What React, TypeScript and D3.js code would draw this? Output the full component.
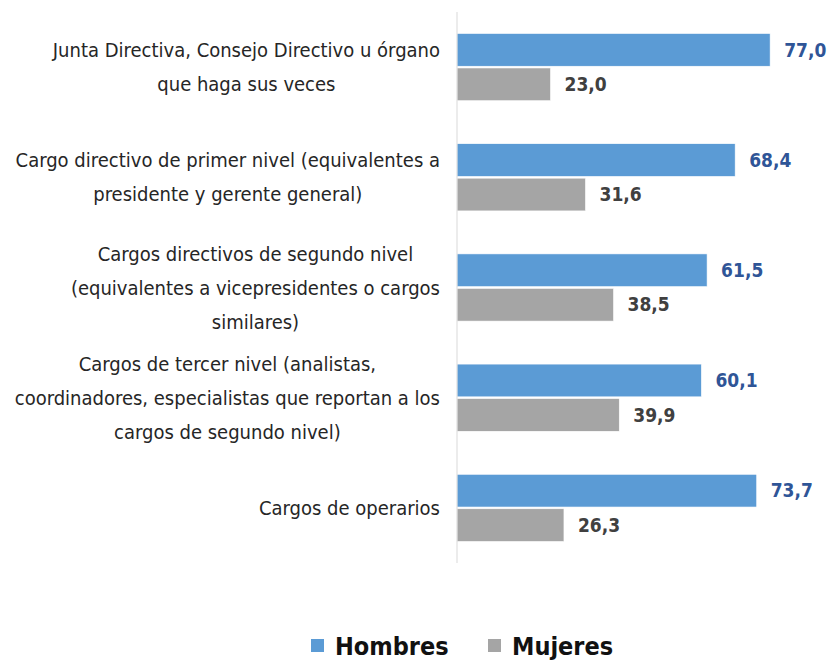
import { useRef, useEffect } from 'react'
import * as d3 from 'd3'

const categories = [
  'Junta Directiva, Consejo Directivo u órgano|que haga sus veces',
  'Cargo directivo de primer nivel (equivalentes a|presidente y gerente general)',
  'Cargos directivos de segundo nivel|(equivalentes a vicepresidentes o cargos|similares)',
  'Cargos de tercer nivel (analistas,|coordinadores, especialistas que reportan a los|cargos de segundo nivel)',
  'Cargos de operarios ',
]
const series = ['Hombres', 'Mujeres']
const hombres = [77.0, 68.4, 61.5, 60.1, 73.7]
const mujeres = [23.0, 31.6, 38.5, 39.9, 26.3]

const colors = ['#5B9BD5', '#A5A5A5']
const labelColors = ['#2F5597', '#404040']
const font = '"DejaVu Sans Condensed", "Liberation Sans Narrow", Arial, sans-serif'

export default function App() {
  const ref = useRef<SVGSVGElement>(null)

  useEffect(() => {
    const width = 831
    const height = 662
    const svg = d3.select(ref.current)
    svg.selectAll('*').remove()

    const x = d3.scaleLinear().domain([0, 90]).range([457, 823])
    const y0 = d3.scaleBand().domain(categories).range([12, 563]).paddingInner(0.39).paddingOuter(0.195)
    const y1 = d3.scaleBand().domain(series).range([0, y0.bandwidth()]).paddingInner(0.05)

    const values = [hombres, mujeres]

    const groups = svg.selectAll('g.cat')
      .data(categories)
      .enter()
      .append('g')
      .attr('class', 'cat')
      .attr('transform', d => `translate(0, ${y0(d)})`)

    series.forEach((s, si) => {
      groups.append('rect')
        .attr('x', x(0))
        .attr('y', y1(s)!)
        .attr('width', (_d, i) => x(values[si][i]) - x(0))
        .attr('height', y1.bandwidth())
        .attr('fill', colors[si])
        .attr('stroke', '#ffffff')
        .attr('stroke-width', 0.6)

      groups.append('text')
        .attr('x', (_d, i) => x(values[si][i]) + 14)
        .attr('y', y1(s)! + y1.bandwidth() / 2)
        .attr('dy', '0.35em')
        .attr('font-family', font)
        .attr('font-weight', 'bold')
        .attr('font-size', 19)
        .attr('fill', labelColors[si])
        .text((_d, i) => values[si][i].toFixed(1).replace('.', ','))
    })

    // axis line
    svg.append('line')
      .attr('x1', x(0)).attr('x2', x(0))
      .attr('y1', 12).attr('y2', 563)
      .attr('stroke', '#D9D9D9')
      .attr('stroke-width', 1)

    // category labels, lines centred inside a block right-aligned to the axis
    const lineH = 34
    categories.forEach(c => {
      const lines = c.split('|')
      const cy = y0(c)! + y0.bandwidth() / 2
      const g = svg.append('g')
      const texts = g.selectAll('text')
        .data(lines)
        .enter()
        .append('text')
        .attr('y', (_d, i) => cy + (i - (lines.length - 1) / 2) * lineH)
        .attr('dy', '0.35em')
        .attr('text-anchor', 'middle')
        .attr('font-family', font)
        .attr('font-size', 20)
        .attr('fill', '#262626')
        .text(d => d)
      let maxW = 0
      texts.each(function () {
        maxW = Math.max(maxW, (this as SVGTextElement).getComputedTextLength())
      })
      texts.attr('x', 440 - maxW / 2)
    })

    // legend
    const legend = svg.append('g').attr('transform', `translate(0, ${646})`)
    const legendX = [311, 488]
    series.forEach((s, i) => {
      legend.append('rect')
        .attr('x', legendX[i]).attr('y', -7)
        .attr('width', 13).attr('height', 13)
        .attr('fill', colors[i])
      legend.append('text')
        .attr('x', legendX[i] + 24)
        .attr('y', 0)
        .attr('dy', '0.35em')
        .attr('font-family', font)
        .attr('font-weight', 'bold')
        .attr('font-size', 25)
        .attr('fill', '#111111')
        .text(s)
    })

    svg.attr('width', width).attr('height', height)
  }, [])

  return (
    <svg ref={ref} width={831} height={662}
      style={{ position: 'absolute', left: 0, top: 0, background: '#fff' }} />
  )
}
